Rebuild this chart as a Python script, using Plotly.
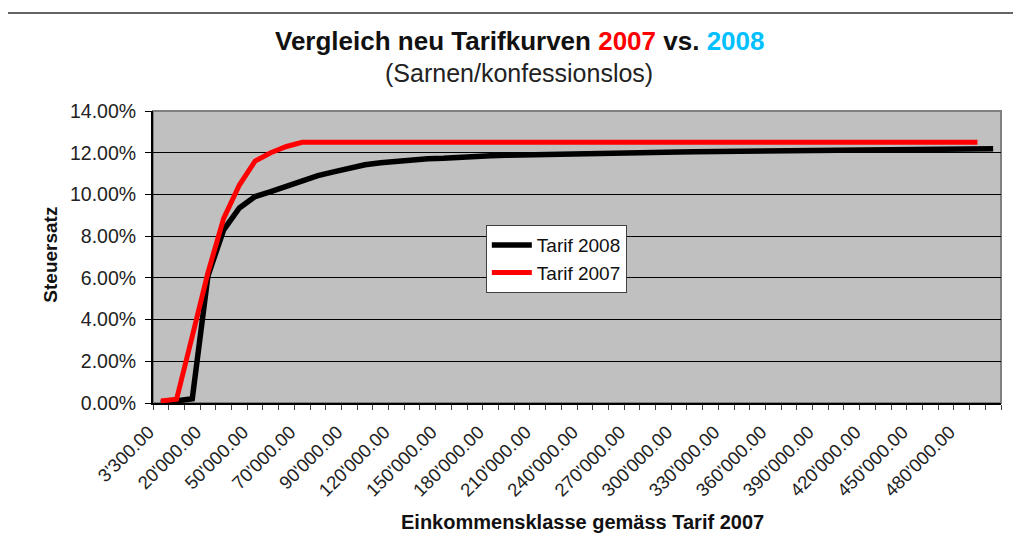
import plotly.graph_objects as go

categories = [
    "3'300.00", "10'000.00", "15'000.00", "20'000.00", "30'000.00", "40'000.00",
    "50'000.00", "60'000.00", "65'000.00", "70'000.00", "80'000.00", "85'000.00",
    "90'000.00", "100'000.00", "110'000.00", "120'000.00", "130'000.00", "140'000.00",
    "150'000.00", "160'000.00", "170'000.00", "180'000.00", "190'000.00", "200'000.00",
    "210'000.00", "220'000.00", "230'000.00", "240'000.00", "250'000.00", "260'000.00",
    "270'000.00", "280'000.00", "290'000.00", "300'000.00", "310'000.00", "320'000.00",
    "330'000.00", "340'000.00", "350'000.00", "360'000.00", "370'000.00", "380'000.00",
    "390'000.00", "400'000.00", "410'000.00", "420'000.00", "430'000.00", "440'000.00",
    "450'000.00", "460'000.00", "470'000.00", "480'000.00", "490'000.00", "500'000.00",
]

tarif_2008 = [
    0.0000, 0.0010, 0.0020, 0.0610, 0.0830, 0.0935, 0.0990, 0.1013, 0.1040, 0.1070,
    0.1090, 0.1108, 0.1128, 0.1142, 0.1152, 0.1160, 0.1166, 0.1171, 0.1173, 0.1179,
    0.1183, 0.1186, 0.1188, 0.1190, 0.1191, 0.1193, 0.1195, 0.1196, 0.1198, 0.1199,
    0.1200, 0.1202, 0.1203, 0.1204, 0.1205, 0.1206, 0.1207, 0.1208, 0.1209, 0.1210,
    0.1211, 0.1211, 0.1212, 0.1213, 0.1214, 0.1214, 0.1215, 0.1216, 0.1216, 0.1217,
    0.1218, 0.1218, 0.1219, 0.1219,
]

tarif_2007 = [
    0.0010, 0.0018, 0.0320, 0.0625, 0.0885, 0.1045, 0.1160, 0.1200, 0.1230, 0.1250,
    0.1250, 0.1250, 0.1250, 0.1250, 0.1250, 0.1250, 0.1250, 0.1250, 0.1250, 0.1250,
    0.1250, 0.1250, 0.1250, 0.1250, 0.1250, 0.1250, 0.1250, 0.1250, 0.1250, 0.1250,
    0.1250, 0.1250, 0.1250, 0.1250, 0.1250, 0.1250, 0.1250, 0.1250, 0.1250, 0.1250,
    0.1250, 0.1250, 0.1250, 0.1250, 0.1250, 0.1250, 0.1250, 0.1250, 0.1250, 0.1250,
    0.1250, 0.1250, 0.1250,
]

y_ticks = [0.0, 0.02, 0.04, 0.06, 0.08, 0.10, 0.12, 0.14]
x_ticktext = [c if i % 3 == 0 else "" for i, c in enumerate(categories)]

FONT = "Liberation Sans, Arial, sans-serif"

fig = go.Figure()
fig.add_trace(go.Scatter(
    x=categories, y=tarif_2008, mode="lines", name="Tarif 2008",
    line=dict(color="#000000", width=5.5),
))
fig.add_trace(go.Scatter(
    x=categories[:len(tarif_2007)], y=tarif_2007, mode="lines", name="Tarif 2007",
    line=dict(color="#FF0000", width=5),
))

# page body has an 8px margin; figure coordinates = screen - 8
OFF = 8
W, H = 1021 - OFF, 557 - OFF
PL, PR, PT, PB = 153.3, 1001.0, 110.7, 403.3  # plot area in screen px
L = PL - OFF
R = W - (PR - OFF)
T = PT - OFF
B = H - (PB - OFF)
pw = PR - PL
ph = PB - PT


def px(x):
    return (x - PL) / pw


def py(y):
    return (PB - y) / ph


fig.update_layout(
    width=W, height=H,
    margin=dict(l=L, r=R, t=T, b=B, pad=0),
    paper_bgcolor="white",
    plot_bgcolor="#C0C0C0",
    font=dict(family=FONT, size=19, color="#222222"),
    showlegend=True,
    legend=dict(
        x=px(486), y=py(225), xanchor="left", yanchor="top",
        bgcolor="white", bordercolor="#404040", borderwidth=1,
        font=dict(family=FONT, size=19, color="#111111"),
        itemwidth=40, tracegroupgap=0,
    ),
    xaxis=dict(
        type="category",
        categoryorder="array", categoryarray=categories,
        range=[-0.5, len(categories) - 0.5],
        tickmode="array", tickvals=categories, ticktext=x_ticktext,
        tickson="boundaries",
        ticks="outside", ticklen=5, tickcolor="#404040", tickwidth=1,
        tickangle=-45,
        ticklabelshift=-12, ticklabelstandoff=9,
        tickfont=dict(family=FONT, size=18.5, color="#222222"),
        showline=True, linecolor="#000000", linewidth=2,
        showgrid=False, zeroline=False,
    ),
    yaxis=dict(
        range=[0, 0.14],
        tickmode="array", tickvals=y_ticks, tickformat=".2%",
        ticks="outside", ticklen=6, tickcolor="#000000",
        ticklabelstandoff=5,
        tickfont=dict(family=FONT, size=19.5, color="#222222"),
        showline=True, linecolor="#000000", linewidth=2,
        showgrid=True, gridcolor="#000000", gridwidth=1,
        zeroline=False,
    ),
    shapes=[
        dict(type="rect", xref="paper", yref="paper", x0=0, x1=1, y0=0, y1=1,
             line=dict(color="#808080", width=2), layer="below"),
        dict(type="rect", xref="paper", yref="paper",
             x0=px(7), x1=px(1014), y0=py(575), y1=py(12.5),
             line=dict(color="#333333", width=1.5)),
    ],
    annotations=[
        dict(text="<b>Vergleich neu Tarifkurven <span style='color:#FF0000'>2007</span> vs. "
                  "<span style='color:#00C0FF'>2008</span></b>",
             xref="paper", yref="paper", x=px(520), y=py(41),
             xanchor="center", yanchor="middle", showarrow=False,
             font=dict(family=FONT, size=26, color="#111111")),
        dict(text="(Sarnen/konfessionslos)",
             xref="paper", yref="paper", x=px(519), y=py(73),
             xanchor="center", yanchor="middle", showarrow=False,
             font=dict(family=FONT, size=25, color="#222222")),
        dict(text="<b>Einkommensklasse gemäss Tarif 2007</b>",
             xref="paper", yref="paper", x=px(583), y=py(523),
             xanchor="center", yanchor="middle", showarrow=False,
             font=dict(family=FONT, size=20, color="#111111")),
        dict(text="<b>Steuersatz</b>", textangle=-90,
             xref="paper", yref="paper", x=px(50), y=py(255),
             xanchor="center", yanchor="middle", showarrow=False,
             font=dict(family=FONT, size=19, color="#111111")),
    ],
)

fig.write_html("out.html")
